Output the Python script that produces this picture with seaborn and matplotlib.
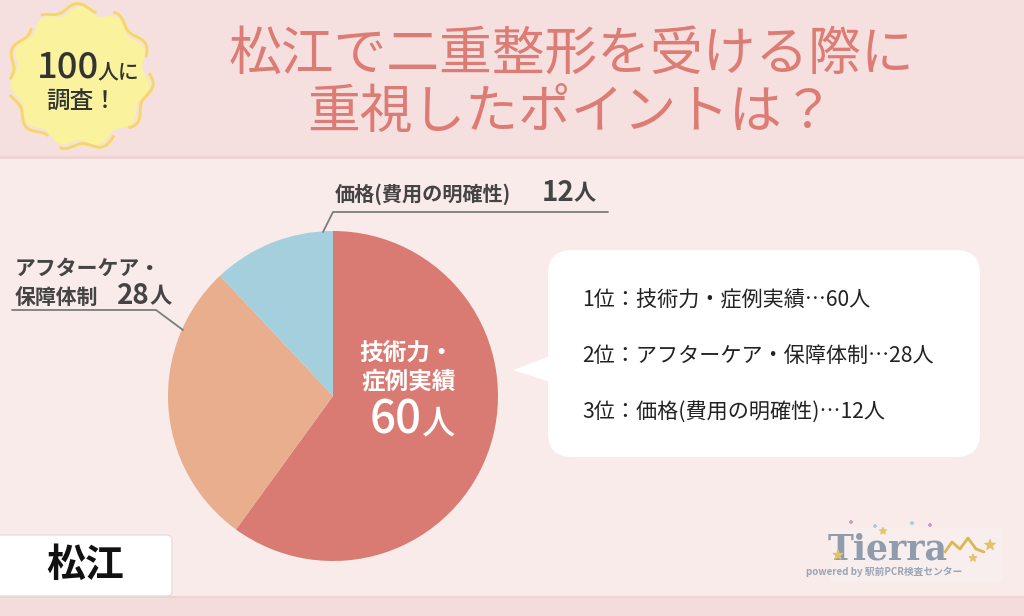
import numpy as np
import matplotlib.pyplot as plt
import seaborn as sns
from matplotlib.patches import FancyBboxPatch, Polygon, Rectangle

sns.set_theme(style="white")
plt.rcParams['font.family'] = ['Noto Sans CJK JP', 'DejaVu Sans']

# data
categories = ["技術力・症例実績", "アフターケア・保障体制", "価格(費用の明確性)"]
counts = [60, 28, 12]
ranks = ["1位", "2位", "3位"]
pie_colors = ["#da7b73", "#e8ae8e", "#a4d0de"]
title_lines = ["松江で二重整形を受ける際に", "重視したポイントは？"]
area = "松江"

fig = plt.figure(figsize=(10.24, 6.16), dpi=100)
ax = fig.add_axes([0, 0, 1, 1])

# backgrounds
ax.add_patch(Rectangle((0, 0), 1024, 616, color="#f8ebea", zorder=0))
ax.add_patch(Rectangle((0, 0), 1024, 156, color="#f5dfdf", zorder=0))
ax.plot([0, 1024], [157, 157], color="#efd3d3", lw=2, zorder=1)
ax.add_patch(Rectangle((0, 597), 1024, 19, color="#f5dcdc", zorder=0))
ax.plot([0, 1024], [597, 597], color="#efd3d3", lw=1.5, zorder=1)

# badge
th = np.linspace(0, 2 * np.pi, 400)
r_fill = 66 + 3.5 * np.sin(11 * th)
ax.fill(80 + r_fill * np.cos(th), 77 + r_fill * np.sin(th), color="#faf29c", zorder=2)
r_line = 70 + 3.5 * np.sin(11 * th + 0.4)
ax.plot(80 + r_line * np.cos(th), 77 + r_line * np.sin(th), color="#f5d85e", lw=2,
        dashes=(22, 6), zorder=2)
ax.text(68, 68, "100", fontsize=26, fontweight='medium', color="#333333", ha='center', va='center', zorder=3)
ax.text(118, 72, "人に", fontsize=15, fontweight='medium', color="#333333", ha='center', va='center', zorder=3)
ax.text(82, 102, "調査！", fontsize=17, fontweight='medium', color="#333333", ha='center', va='center', zorder=3)

# title
for i, line in enumerate(title_lines):
    ax.text(571, 55 + i * 57, line, fontsize=38, fontweight='normal', color="#dc7c74",
            ha='center', va='center', zorder=3)

# pie
ax.pie(counts, colors=pie_colors, startangle=-90, counterclock=True,
       center=(333, 396), radius=165, frame=True,
       wedgeprops=dict(linewidth=0, zorder=3))
ax.set_xlim(0, 1024)
ax.set_ylim(616, 0)
ax.axis('off')

# inside label (largest)
ax.text(407, 353, "技術力・", fontsize=17, fontweight='bold', color="white", ha='center', va='center', zorder=4)
ax.text(409, 381, "症例実績", fontsize=17, fontweight='bold', color="white", ha='center', va='center', zorder=4)
ax.text(422, 420, f"{counts[0]}", fontsize=33, fontweight='medium', color="white", ha='right', va='center', zorder=4)
ax.text(421, 424, "人", fontsize=24, fontweight='medium', color="white", ha='left', va='center', zorder=4)

# outside labels
lab = "#444444"
ax.plot([183, 156, 12], [330, 310, 310], color="#7d7d7d", lw=1.3, zorder=4)
ax.text(15, 268, "アフターケア・", fontsize=15, fontweight='bold', color=lab, ha='left', va='center', zorder=4)
ax.text(15, 297, "保障体制", fontsize=15, fontweight='bold', color=lab, ha='left', va='center', zorder=4)
ax.text(150, 296, f"{counts[1]}", fontsize=20, fontweight='bold', color=lab, ha='right', va='center', zorder=4)
ax.text(150, 297, "人", fontsize=16, fontweight='bold', color=lab, ha='left', va='center', zorder=4)

ax.plot([323, 333, 608], [232, 212, 212], color="#7d7d7d", lw=1.3, zorder=4)
ax.text(335, 194, categories[2], fontsize=14.5, fontweight='bold', color=lab, ha='left', va='center', zorder=4)
ax.text(574, 193, f"{counts[2]}", fontsize=20, fontweight='bold', color=lab, ha='right', va='center', zorder=4)
ax.text(574, 194, "人", fontsize=16, fontweight='bold', color=lab, ha='left', va='center', zorder=4)

# callout box
ax.add_patch(FancyBboxPatch((548, 250), 432, 207, boxstyle="round,pad=0,rounding_size=24",
                            facecolor="white", edgecolor="none", zorder=4))
ax.add_patch(Polygon([[550, 356], [513, 370], [550, 382]], closed=True,
                     facecolor="white", edgecolor="none", zorder=4))
for i, (rk, cat, n) in enumerate(zip(ranks, categories, counts)):
    ax.text(582, 300 + i * 56, f"{rk}：{cat}…{n}人", fontsize=15.2, color="#222222",
            ha='left', va='center', zorder=5)

# area box
ax.add_patch(FancyBboxPatch((-10, 535), 182, 61, boxstyle="round,pad=0,rounding_size=5",
                            facecolor="white", edgecolor="#e6dede", lw=1, zorder=4))
ax.text(85, 565, area, fontsize=28, fontweight='bold', color="#111111", ha='center', va='center', zorder=5)

# logo
ax.add_patch(Rectangle((830, 528), 172, 52, color="#f9eeee", zorder=2))
ax.text(888, 550, "Tierra", fontsize=25, fontweight='bold', color="#8e9cae",
        family='DejaVu Serif', ha='center', va='center', zorder=3)
ax.text(884, 572, "powered by 駅前PCR検査センター", fontsize=7, fontweight='bold', color="#9aa4b4",
        ha='center', va='center', zorder=3)
ax.scatter([838, 883, 990, 973], [555, 531, 545, 558], marker='*', s=[50, 25, 60, 30],
           color="#e2c36a", zorder=3)
ax.scatter([851, 875, 912, 930], [522, 526, 523, 525], marker='+', s=12,
           color=["#c9a0c0", "#a8d0e0", "#a8d0e0", "#c9a0c0"], zorder=3)
ax.plot([945, 952, 960, 968, 976, 984], [552, 542, 549, 538, 549, 552], color="#d8b855", lw=2, zorder=3)

fig.savefig("out.png", dpi=100)
